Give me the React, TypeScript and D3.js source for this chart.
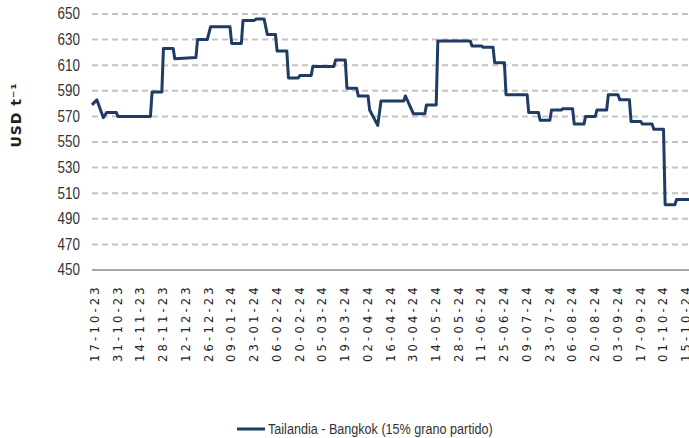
import React from "react";
import * as d3 from "d3";

const dates: string[] = [
  "17-10-23","20-10-23","24-10-23","26-10-23","01-11-23","02-11-23","22-11-23","23-11-23",
  "29-11-23","30-11-23","06-12-23","07-12-23","20-12-23","21-12-23","27-12-23","29-12-23",
  "10-01-24","11-01-24","17-01-24","18-01-24","25-01-24","26-01-24","31-01-24","02-02-24",
  "07-02-24","08-02-24","14-02-24","15-02-24","21-02-24","22-02-24","29-02-24","01-03-24",
  "14-03-24","15-03-24","21-03-24","22-03-24","28-03-24","29-03-24","04-04-24","05-04-24",
  "10-04-24","12-04-24","26-04-24","27-04-24","02-05-24","09-05-24","10-05-24","16-05-24",
  "17-05-24","06-06-24","07-06-24","13-06-24","14-06-24","20-06-24","21-06-24","27-06-24",
  "28-06-24","11-07-24","12-07-24","18-07-24","19-07-24","25-07-24","26-07-24","01-08-24",
  "02-08-24","08-08-24","09-08-24","15-08-24","16-08-24","22-08-24","23-08-24","29-08-24",
  "30-08-24","05-09-24","06-09-24","12-09-24","13-09-24","19-09-24","20-09-24","26-09-24",
  "27-09-24","03-10-24","04-10-24","10-10-24","11-10-24","19-10-24"
];

const values: number[] = [
  579,583,569,573,573,570,570,589,
  589,623,623,615,616,630,630,640,
  640,627,627,645,645,646,646,634,
  634,621,621,600,600,602,602,609,
  609,614,614,592,592,586,586,575,
  563,582,582,586,572,572,579,579,
  629,629,625,625,624,624,612,612,
  587,587,573,573,567,567,575,575,
  576,576,564,564,570,570,575,575,
  587,587,583,583,566,566,564,564,
  560,560,501,501,505,505
];

const tickLabels: string[] = [
  "17-10-23","31-10-23","14-11-23","28-11-23","12-12-23","26-12-23","09-01-24",
  "23-01-24","06-02-24","20-02-24","05-03-24","19-03-24","02-04-24","16-04-24",
  "30-04-24","14-05-24","28-05-24","11-06-24","25-06-24","09-07-24","23-07-24",
  "06-08-24","20-08-24","03-09-24","17-09-24","01-10-24","15-10-24"
];

const yTicks: number[] = [450,470,490,510,530,550,570,590,610,630,650];

const seriesName = "Tailandia - Bangkok (15% grano partido)";
const yTitle = "USD t\u207B\u00B9";

const W = 689, H = 438;
const left = 92, top = 14, bottom = 270;
const parse = d3.timeParse("%d-%m-%y");

export default function App() {
  const x = d3.scaleTime()
    .domain([parse("17-10-23") as Date, parse("15-10-24") as Date])
    .range([left, 683]);
  const y = d3.scaleLinear().domain([450, 650]).range([bottom, top]);
  const pts = dates.map((d, i) => ({ d: parse(d) as Date, v: values[i] }));
  const line = d3.line<{ d: Date; v: number }>().x(p => x(p.d)).y(p => y(p.v));
  const color = "#1f3c64";
  const cond = "'Liberation Sans', Arial, sans-serif";

  return (
    <svg width={W} height={H} style={{ position: "absolute", left: 0, top: 0, background: "#fff" }}>
      <rect x={0} y={0} width={W} height={H} fill="#fff" />
      {yTicks.filter(t => t !== 450).map(t => (
        <line key={t} x1={left} x2={W} y1={y(t)} y2={y(t)} stroke="#c3c3c3" strokeWidth={2} strokeDasharray="6 4" />
      ))}
      <line x1={left} x2={W} y1={y(450)} y2={y(450)} stroke="#a6a6a6" strokeWidth={2} />
      {yTicks.map(t => (
        <text key={t} transform={`translate(80,${y(t)}) scale(0.84,1)`} textAnchor="end" dominantBaseline="central"
          fontFamily={cond} fontSize={16} fill="#333">{t}</text>
      ))}
      {tickLabels.map(l => (
        <text key={l} transform={`translate(${x(parse(l) as Date) + 3},362) rotate(-90)`}
          textAnchor="start" dominantBaseline="central" fontFamily="'DejaVu Sans', Verdana, sans-serif"
          fontSize={11.5} letterSpacing={3.2} fill="#222">{l}</text>
      ))}
      <text transform="translate(16,115) rotate(-90)" textAnchor="middle" dominantBaseline="central"
        fontFamily="'DejaVu Sans', Verdana, sans-serif" fontWeight="bold" fontSize={14} letterSpacing={1} fill="#222">{yTitle}</text>
      <path d={line(pts) || ""} fill="none" stroke={color} strokeWidth={3} strokeLinejoin="round" />
      <line x1={237} x2={265} y1={429} y2={429} stroke={color} strokeWidth={3} />
      <text transform="translate(268,429) scale(0.84,1)" dominantBaseline="central" fontFamily={cond} fontSize={15} fill="#333">{seriesName}</text>
    </svg>
  );
}
